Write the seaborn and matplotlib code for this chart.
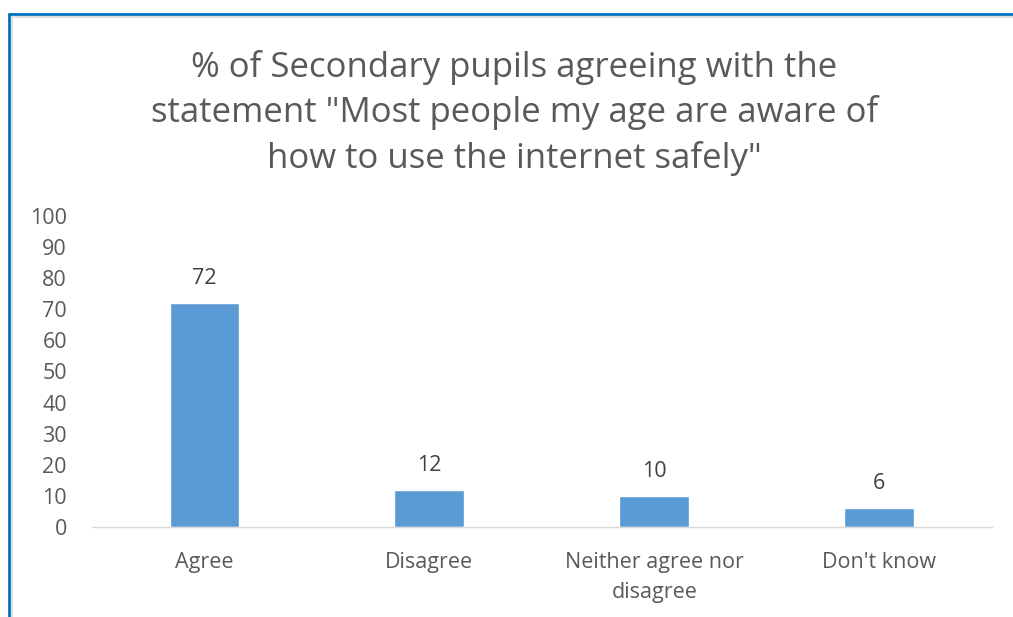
import pandas as pd
import seaborn as sns
import matplotlib.pyplot as plt
from matplotlib.lines import Line2D

categories = ['Agree', 'Disagree', 'Neither agree nor\ndisagree', "Don't know"]
values = [72, 12, 10, 6]

df = pd.DataFrame({'Answer': categories, 'Percent': values})

sns.set_theme(style='white')
plt.rcParams['font.family'] = ['Open Sans', 'DejaVu Sans']

grey = '#595959'
fig = plt.figure(figsize=(10.13, 6.17), dpi=100)
ax = fig.add_axes([0.0908, 0.1459, 0.888, 0.504])

sns.barplot(data=df, x='Answer', y='Percent', color='#5B9BD5', saturation=1, width=0.31, ax=ax)

# value labels above the bars
for bar, v in zip(ax.patches, values):
    ax.annotate(f'{v}', (bar.get_x() + bar.get_width() / 2, bar.get_height()),
                xytext=(0, 10), textcoords='offset points',
                ha='center', va='bottom', fontsize=15.5, color='#404040')

ax.set_ylim(0, 100)
ax.set_yticks(range(0, 101, 10))
ax.set_xlim(-0.5, 3.5)
ax.set_xticks(range(len(categories)))
ax.set_xticklabels(categories, linespacing=1.55)
ax.set_xlabel('')
ax.set_ylabel('')
ax.tick_params(axis='both', labelsize=15.5, colors=grey, length=0)
ax.tick_params(axis='x', pad=18)
ax.tick_params(axis='y', pad=18)
for s in ['top', 'right', 'left']:
    ax.spines[s].set_visible(False)
ax.spines['bottom'].set_color('#D9D9D9')
ax.spines['bottom'].set_linewidth(1)

fig.text(0.508, 0.817,
         '% of Secondary pupils agreeing with the\nstatement "Most people my age are aware of\nhow to use the internet safely"',
         ha='center', va='center', fontsize=25, color=grey, linespacing=1.38)

# blue frame from the screenshot
fig.add_artist(Line2D([0.0085, 1.0], [1 - 14 / 617, 1 - 14 / 617], transform=fig.transFigure, color='#0070C0', lw=2))
fig.add_artist(Line2D([0.0085, 0.0085], [0, 1 - 14 / 617], transform=fig.transFigure, color='#0070C0', lw=2))
fig.add_artist(Line2D([0.0115, 1.0], [1 - 17 / 617, 1 - 17 / 617], transform=fig.transFigure, color='#E0E0E0', lw=1.5))
fig.add_artist(Line2D([0.0115, 0.0115], [0, 1 - 17 / 617], transform=fig.transFigure, color='#E0E0E0', lw=1.5))

fig.savefig('out.png', dpi=100, facecolor='white')
